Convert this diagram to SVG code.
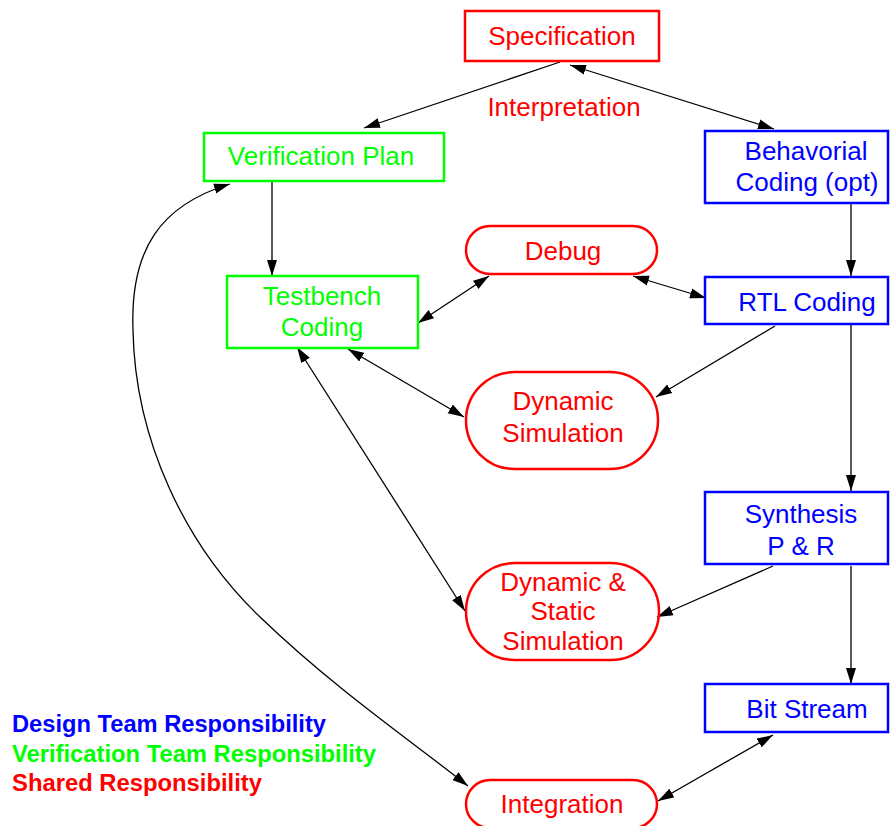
<svg xmlns="http://www.w3.org/2000/svg" width="890" height="826" viewBox="0 0 890 826">
<style>
text{font-family:"Liberation Sans",Arial,sans-serif;font-size:26px;text-anchor:middle}
.r{fill:#ff0000}.g{fill:#00ff00}.b{fill:#0000ff}
.nr{fill:none;stroke:#ff0000;stroke-width:2.5}
.ng{fill:none;stroke:#00ff00;stroke-width:2.5}
.nb{fill:none;stroke:#0000ff;stroke-width:2.5}
.c{fill:none;stroke:#000;stroke-width:1.3}
.leg{font-weight:bold;font-size:23px;text-anchor:start}
</style>
<defs>
<marker id="ah" markerUnits="userSpaceOnUse" markerWidth="17" markerHeight="11" refX="16" refY="5" orient="auto-start-reverse" viewBox="0 0 17 10">
<path d="M0,0 L16,5 L0,10 z" fill="#000"/>
</marker>
</defs>
<rect width="890" height="826" fill="#fff"/>
<g id="connectors">
<line class="c" x1="560" y1="62" x2="364" y2="128" marker-end="url(#ah)"/>
<line class="c" x1="570" y1="65" x2="774" y2="129" marker-start="url(#ah)" marker-end="url(#ah)"/>
<line class="c" x1="272" y1="181" x2="272" y2="276" marker-end="url(#ah)"/>
<line class="c" x1="851" y1="204" x2="851" y2="276" marker-end="url(#ah)"/>
<line class="c" x1="489" y1="276" x2="418" y2="323" marker-start="url(#ah)" marker-end="url(#ah)"/>
<line class="c" x1="633" y1="276" x2="706" y2="298" marker-start="url(#ah)" marker-end="url(#ah)"/>
<line class="c" x1="775" y1="326" x2="656" y2="397" marker-end="url(#ah)"/>
<line class="c" x1="348" y1="349" x2="464" y2="417" marker-start="url(#ah)" marker-end="url(#ah)"/>
<line class="c" x1="297" y1="347" x2="465" y2="611" marker-start="url(#ah)" marker-end="url(#ah)"/>
<line class="c" x1="851" y1="325" x2="851" y2="491" marker-end="url(#ah)"/>
<line class="c" x1="773" y1="566" x2="657" y2="617" marker-end="url(#ah)"/>
<line class="c" x1="851" y1="566" x2="851" y2="684" marker-end="url(#ah)"/>
<line class="c" x1="773" y1="735" x2="658" y2="801" marker-start="url(#ah)" marker-end="url(#ah)"/>
<path class="c" d="M230,184 C160,205 130,250 133,330 C135,440 185,545 260,617 S410,740 468,786" marker-start="url(#ah)" marker-end="url(#ah)"/>
</g>
<g id="specification">
<rect class="nr" x="465" y="11" width="194" height="50"/>
<text class="r" x="562" y="45">Specification</text>
</g>
<g id="interpretation">
<text class="r" x="564" y="116">Interpretation</text>
</g>
<g id="verification-plan">
<rect class="ng" x="204" y="133" width="240" height="48"/>
<text class="g" x="321" y="165">Verification Plan</text>
</g>
<g id="behavorial-coding">
<rect class="nb" x="705" y="131" width="183" height="72"/>
<text class="b" x="806" y="160">Behavorial</text>
<text class="b" x="807" y="191">Coding (opt)</text>
</g>
<g id="testbench-coding">
<rect class="ng" x="227" y="276" width="191" height="72"/>
<text class="g" x="322" y="305">Testbench</text>
<text class="g" x="322" y="336">Coding</text>
</g>
<g id="debug">
<rect class="nr" x="466" y="226" width="191" height="48" rx="24" ry="24"/>
<text class="r" x="563" y="260">Debug</text>
</g>
<g id="rtl-coding">
<rect class="nb" x="705" y="277" width="183" height="47"/>
<text class="b" x="807" y="311">RTL Coding</text>
</g>
<g id="dynamic-simulation">
<rect class="nr" x="466" y="372" width="192" height="97" rx="48.5" ry="48.5"/>
<text class="r" x="563" y="410">Dynamic</text>
<text class="r" x="563" y="442">Simulation</text>
</g>
<g id="synthesis">
<rect class="nb" x="705" y="492" width="183" height="72"/>
<text class="b" x="801" y="523">Synthesis</text>
<text class="b" x="801" y="555">P &amp; R</text>
</g>
<g id="dynamic-static-simulation">
<rect class="nr" x="466" y="563" width="193" height="97" rx="48.5" ry="48.5"/>
<text class="r" x="563" y="591">Dynamic &amp;</text>
<text class="r" x="563" y="620">Static</text>
<text class="r" x="563" y="650">Simulation</text>
</g>
<g id="bit-stream">
<rect class="nb" x="705" y="684" width="183" height="48"/>
<text class="b" x="807" y="718">Bit Stream</text>
</g>
<g id="integration">
<rect class="nr" x="466" y="780" width="191" height="48" rx="24" ry="24"/>
<text class="r" x="562" y="813">Integration</text>
</g>
<g id="legend">
<text class="leg b" x="12" y="732" textLength="314" lengthAdjust="spacingAndGlyphs">Design Team Responsibility</text>
<text class="leg g" x="12" y="762" textLength="364" lengthAdjust="spacingAndGlyphs">Verification Team Responsibility</text>
<text class="leg r" x="12" y="791" textLength="250" lengthAdjust="spacingAndGlyphs">Shared Responsibility</text>
</g>
</svg>
